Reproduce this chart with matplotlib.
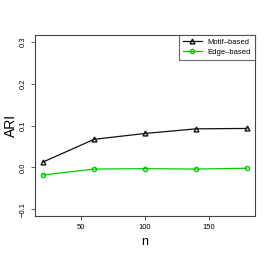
import matplotlib
matplotlib.use("Agg")
import matplotlib.pyplot as plt

n = [20, 60, 100, 140, 180]
motif = [0.013, 0.067, 0.081, 0.092, 0.093]
edge = [-0.018, -0.004, -0.003, -0.004, -0.002]

plt.rcParams['font.family'] = ['Liberation Sans', 'DejaVu Sans']

fig = plt.figure(figsize=(2.73, 2.62), dpi=100)
ax = fig.add_axes([35 / 273, 1 - 216 / 262, 220 / 273, 181 / 262])

ax.plot(n, motif, color="#111111", lw=0.9, marker="^", ms=3.5, mfc="none", mew=1.0, label="Motif\u2013based")
ax.plot(n, edge, color="#00CC00", lw=0.9, marker="o", ms=3, mfc="none", mew=1.0, label="Edge\u2013based")

ax.set_xlim(13.6, 186.4)
ax.set_ylim(-0.116, 0.316)
ax.set_xticks([50, 100, 150])
ax.set_yticks([-0.1, 0.0, 0.1, 0.2, 0.3])
ax.set_yticklabels(["\u22120.1", "0.0", "0.1", "0.2", "0.3"], rotation=90, va="center")
ax.tick_params(labelsize=5.5, length=3, width=0.6, color="#444444", pad=3)
for s in ax.spines.values():
    s.set_linewidth(0.8)
    s.set_color("#444444")

ax.set_xlabel("n", fontsize=9)
ax.xaxis.set_label_coords(0.5, -0.11)
ax.set_ylabel("ARI", fontsize=10)
ax.yaxis.set_label_coords(-17 / 220, 0.5)

leg = ax.legend(loc="upper right", fontsize=5.5, frameon=True, fancybox=False,
                borderaxespad=0, handlelength=2.5, borderpad=0.5, labelspacing=0.3)
leg.get_frame().set_edgecolor("#444444")
leg.get_frame().set_linewidth(0.8)

fig.savefig("out.png", dpi=100)
